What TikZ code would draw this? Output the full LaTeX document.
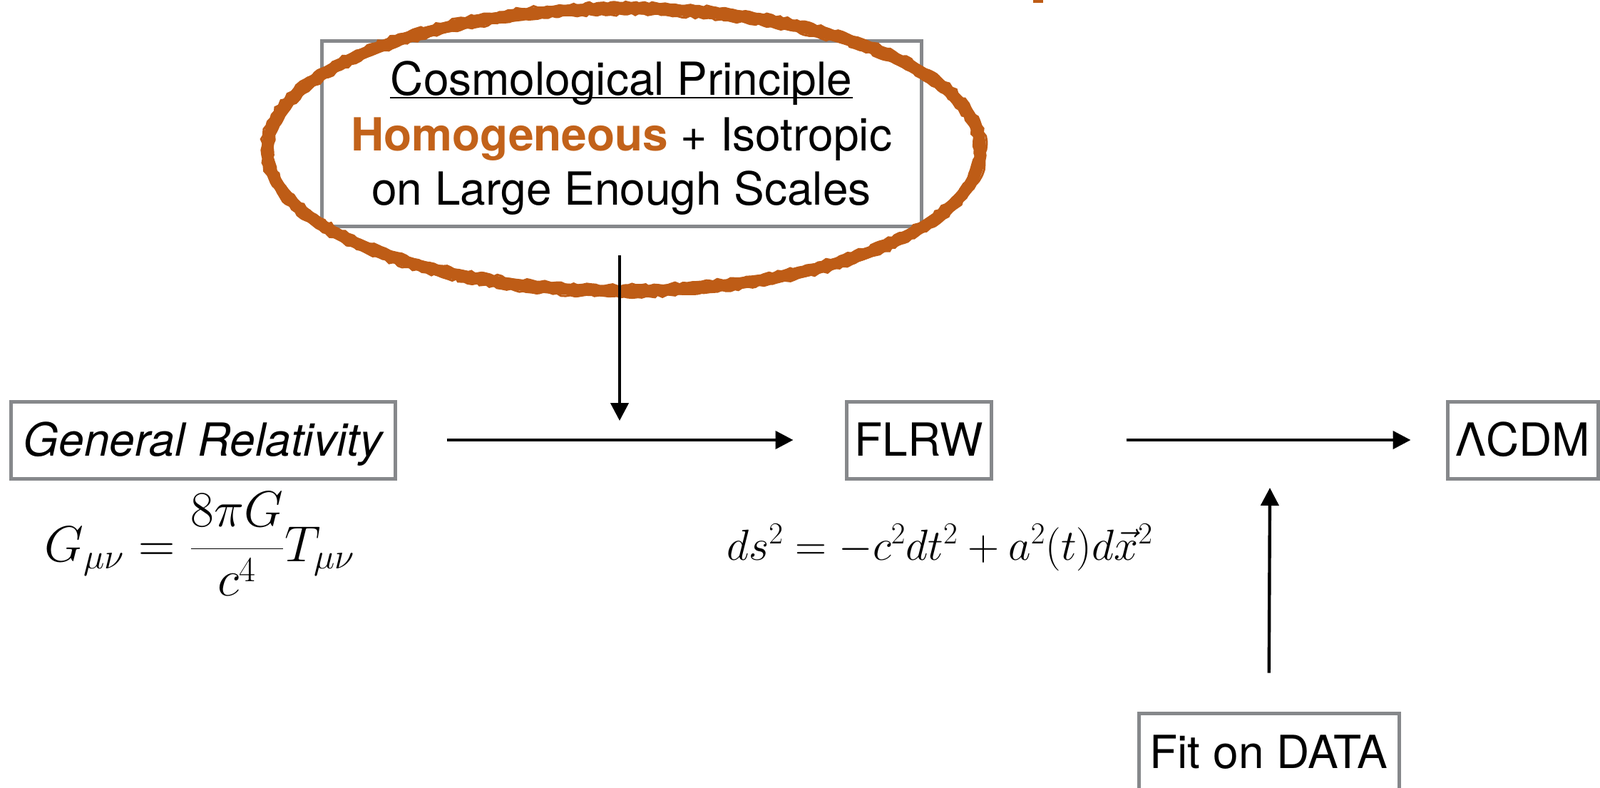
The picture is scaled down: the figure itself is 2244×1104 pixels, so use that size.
\RequirePackage{fix-cm}
\documentclass[tikz,border=0pt]{standalone}
\usepackage[no-math]{fontspec}
\setmainfont{TeX Gyre Heros}
\usetikzlibrary{arrows.meta,decorations.pathmorphing}
\definecolor{boxgray}{RGB}{134,136,139}
\definecolor{brush}{RGB}{190,92,22}
\definecolor{homog}{RGB}{194,98,26}
\begin{document}
\begin{tikzpicture}[x=0.5pt,y=-0.5pt,
  box/.style={draw=boxgray, line width=2.5pt, inner sep=0pt, font=\fontsize{32}{38}\selectfont, text height=22.5pt, text depth=0pt, align=center},
  txt/.style={inner sep=0pt, font=\fontsize{32}{38}\selectfont},
  conn/.style={line width=2.2pt, -{Triangle[length=12.5pt,width=12.5pt]}},
  brushline/.style={brush, line width=1.5pt, decorate, decoration={random steps, segment length=3pt, amplitude=1pt}}
]
\useasboundingbox (0,0) rectangle (2244,1104);
\clip (0,0) rectangle (2244,1104);

% top cut-off mark
\fill[brush] (1449,0) rectangle (1463,4);

% cosmological principle box
\node[box, minimum width=420.5pt, minimum height=130pt] (cosmo) at (871.5,187) {};
\node[txt, anchor=base] (l1) at (871.5,133) {Cosmological Principle};
\node[txt, anchor=base] (l2) at (871.5,211) {\textcolor{homog}{\textbf{Homogeneous}} + Isotropic};
\node[txt, anchor=base] (l3) at (871.5,287) {on Large Enough Scales};
\draw[line width=1pt] ([yshift=-2pt]l1.base west) -- ([yshift=-2pt]l1.base east);

% boxes
\node[box, minimum width=269.5pt, minimum height=54pt, font=\fontsize{32}{38}\selectfont\itshape] (gr) at (284.5,617) {General Relativity};
\node[box, minimum width=101.5pt, minimum height=54pt] (flrw) at (1288.5,617) {FLRW};
\node[box, minimum width=105.5pt, minimum height=54pt] (lcdm) at (2135.5,617) {ΛCDM};
\node[box, minimum width=182.5pt, minimum height=54.5pt] (fit) at (1779.5,1054.5) {Fit on DATA};

% equations
\node[anchor=base, inner sep=0pt, font=\fontsize{35.5}{42}\selectfont] (eqg) at (280,787) {$\displaystyle G_{\mu\nu} = \frac{8\pi G}{c^4}T_{\mu\nu}$};
\node[anchor=base, inner sep=0pt, font=\fontsize{30.5}{36}\selectfont] (eqf) at (1318,785) {$ds^2 = -c^2dt^2 + a^2(t)d\vec{x}^2$};

% hand-drawn ellipse
\draw[brush, line width=8pt] (875,210) ellipse [x radius=250pt, y radius=99pt];
\draw[brushline] (875,210) ellipse [x radius=254pt, y radius=103pt];
\draw[brushline] (875,210) ellipse [x radius=246pt, y radius=95pt];

% connectors
\coordinate (vtop) at (869,358);
\coordinate (vend) at (869,590);
\coordinate (fitend) at (1781,684);
\draw[conn] (vtop) -- (vend);
\draw[conn, shorten <=35pt, shorten >=36pt] (gr.east) -- (flrw.west);
\draw[conn, shorten <=93.5pt, shorten >=24.5pt] (flrw.east) -- (lcdm.west);
\draw[conn, shorten <=27pt] (fit.north) -- (fitend);
\end{tikzpicture}
\end{document}
